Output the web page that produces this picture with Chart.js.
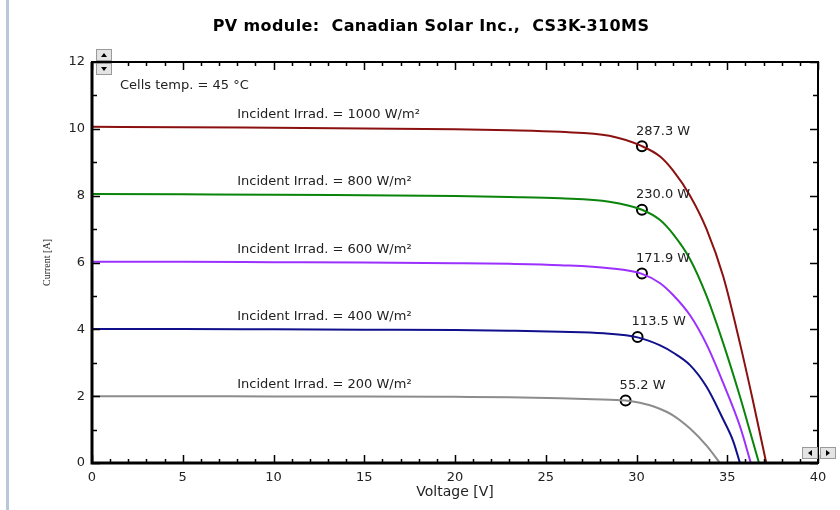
<!DOCTYPE html>
<html>
<head>
<meta charset="utf-8">
<script src="https://cdn.jsdelivr.net/npm/chart.js"></script>
<style>
  body { margin: 0; background: #fff; }
  #wrap { position: relative; width: 840px; height: 510px; }
  #edge { position: absolute; left: 6px; top: 0; width: 3px; height: 510px; background: #b8c8dc; }
</style>
</head>
<body>
<div id="wrap">
  <div id="edge"></div>
  <canvas id="ivchart" width="840" height="510"></canvas>
</div>
<script>
// I-V curves, one per irradiance level (voltage [V] / current [A])
const v1000 = [0, 5, 10, 15, 20, 23, 25.8, 28.5, 30.3, 31.3, 32.03, 32.95, 33.86, 34.78, 35.7, 36.4, 37.15];
const i1000 = [10.06, 10.05, 10.03, 10.01, 9.99, 9.96, 9.91, 9.79, 9.48, 9.17, 8.74, 8.0, 7.0, 5.58, 3.58, 1.9, 0];

const v800 = [0, 5, 10, 15, 20, 23, 25.8, 28.5, 30.3, 31.3, 32.03, 32.95, 33.86, 34.78, 35.7, 36.25, 36.75];
const i800 = [8.05, 8.04, 8.03, 8.01, 7.99, 7.96, 7.92, 7.82, 7.58, 7.27, 6.84, 6.1, 5.0, 3.58, 1.99, 0.95, 0];

const v600 = [0, 5, 10, 15, 20, 23, 25.8, 28.5, 30.3, 31.3, 32.03, 32.95, 33.86, 34.78, 35.7, 36.3];
const i600 = [6.02, 6.02, 6.01, 6.0, 5.98, 5.96, 5.92, 5.83, 5.66, 5.38, 5.02, 4.42, 3.55, 2.39, 1.1, 0];

const v400 = [0, 5, 10, 15, 20, 23, 25.8, 28.2, 30.06, 31.3, 32.03, 32.95, 33.86, 34.78, 35.33, 35.7];
const i400 = [4.01, 4.01, 4.0, 3.99, 3.98, 3.96, 3.93, 3.88, 3.76, 3.52, 3.3, 2.93, 2.28, 1.3, 0.65, 0];

const v200 = [0, 5, 10, 15, 20, 23, 25.8, 27.6, 29.4, 30.19, 31.1, 32.03, 32.95, 33.86, 34.6];
const i200 = [2.0, 2.0, 1.99, 1.99, 1.98, 1.97, 1.94, 1.91, 1.87, 1.8, 1.66, 1.42, 1.03, 0.52, 0];

const irradLabels = ['1000', '800', '600', '400', '200'];
const curveColors = ['#8b1010', '#0a840a', '#9b30ff', '#10108c', '#8c8c8c'];

// maximum power points
const mppV = [30.3, 30.3, 30.3, 30.06, 29.4];
const mppI = [9.48, 7.58, 5.67, 3.77, 1.87];
const mppPower = ['287.3 W', '230.0 W', '171.9 W', '113.5 W', '55.2 W'];

const xTicks = [0, 5, 10, 15, 20, 25, 30, 35, 40];
const yTicks = [0, 2, 4, 6, 8, 10, 12];

const curvesV = [v1000, v800, v600, v400, v200];
const curvesI = [i1000, i800, i600, i400, i200];

const toPoints = (xs, ys) => xs.map((x, k) => ({x: x, y: ys[k]}));

const datasets = curvesV.map((vs, n) => ({
    label: irradLabels[n] + ' W/m²',
    data: toPoints(vs, curvesI[n]),
    borderColor: curveColors[n],
    borderWidth: 2,
    pointRadius: 0,
    cubicInterpolationMode: 'monotone',
    fill: false
}));

datasets.push({
    label: 'MPP',
    data: toPoints(mppV, mppI),
    showLine: false,
    pointRadius: 5,
    pointHoverRadius: 5,
    pointBorderWidth: 2,
    pointBorderColor: '#000',
    pointBackgroundColor: '#fff'
});

const sansFont = '"DejaVu Sans", Verdana, sans-serif';
const txtFont = '13px ' + sansFont;

// frame, inward ticks, annotations, title and little scroll buttons
const decorPlugin = {
    id: 'decor',
    afterDatasetsDraw(chart) {
        const ctx = chart.ctx;
        const xs = chart.scales.x;
        const ys = chart.scales.y;
        const a = chart.chartArea;
        ctx.save();

        // title
        ctx.fillStyle = '#000';
        ctx.font = 'bold 16px ' + sansFont;
        ctx.letterSpacing = '0.4px';
        ctx.textAlign = 'center';
        ctx.textBaseline = 'middle';
        ctx.fillText('PV module:  Canadian Solar Inc.,  CS3K-310MS', 431, 27);
        ctx.letterSpacing = '0px';

        // frame
        ctx.strokeStyle = '#000';
        ctx.lineWidth = 2;
        ctx.strokeRect(a.left, a.top, a.right - a.left, a.bottom - a.top);
        ctx.lineWidth = 3;
        ctx.beginPath();
        ctx.moveTo(a.left, a.top);
        ctx.lineTo(a.left, a.bottom);
        ctx.lineTo(a.right, a.bottom);
        ctx.stroke();

        // ticks
        ctx.lineWidth = 1.5;
        ctx.beginPath();
        for (let v = 0; v <= 40; v++) {
            const px = Math.round(xs.getPixelForValue(v)) + 0.5;
            const len = v % 5 === 0 ? 8 : 4;
            ctx.moveTo(px, a.bottom); ctx.lineTo(px, a.bottom - len);
            ctx.moveTo(px, a.top); ctx.lineTo(px, a.top + len);
        }
        for (let c = 0; c <= 12; c++) {
            const py = Math.round(ys.getPixelForValue(c)) + 0.5;
            const len = c % 2 === 0 ? 8 : 5;
            ctx.moveTo(a.left, py); ctx.lineTo(a.left + len, py);
            ctx.moveTo(a.right, py); ctx.lineTo(a.right - len, py);
        }
        ctx.stroke();

        // texts
        ctx.fillStyle = '#222';
        ctx.font = txtFont;
        ctx.textBaseline = 'middle';
        ctx.textAlign = 'left';
        ctx.fillText('Cells temp. = 45 °C', 120, 86);

        irradLabels.forEach((lab, n) => {
            const py = ys.getPixelForValue(curvesI[n][0]) - 12;
            ctx.fillText('Incident Irrad. = ' + lab + ' W/m²', xs.getPixelForValue(8), py);
        });

        const mppMeta = chart.getDatasetMeta(datasets.length - 1);
        mppMeta.data.forEach((pt, n) => {
            ctx.fillText(mppPower[n], pt.x - 6, pt.y - 15);
        });

        // scroll buttons
        const btn = (x, y, dir) => {
            ctx.fillStyle = '#e4e4e4';
            ctx.fillRect(x, y, 16, 12);
            ctx.strokeStyle = '#9a9a9a';
            ctx.lineWidth = 1;
            ctx.strokeRect(x + 0.5, y + 0.5, 15, 11);
            ctx.fillStyle = '#000';
            ctx.beginPath();
            const cx = x + 8, cy = y + 6;
            if (dir === 'up') { ctx.moveTo(cx - 3, cy + 2); ctx.lineTo(cx + 3, cy + 2); ctx.lineTo(cx, cy - 2); }
            if (dir === 'down') { ctx.moveTo(cx - 3, cy - 2); ctx.lineTo(cx + 3, cy - 2); ctx.lineTo(cx, cy + 2); }
            if (dir === 'left') { ctx.moveTo(cx + 2, cy - 3); ctx.lineTo(cx + 2, cy + 3); ctx.lineTo(cx - 2, cy); }
            if (dir === 'right') { ctx.moveTo(cx - 2, cy - 3); ctx.lineTo(cx - 2, cy + 3); ctx.lineTo(cx + 2, cy); }
            ctx.fill();
        };
        btn(96, 49, 'up');
        btn(96, 63, 'down');
        btn(802, 447, 'left');
        btn(820, 447, 'right');

        ctx.restore();
    }
};

const chart1 = document.getElementById('ivchart');

new Chart(chart1, {
    type: 'line',
    data: { datasets: datasets },
    plugins: [decorPlugin],
    options: {
        responsive: false,
        animation: false,
        layout: { padding: { left: 0, right: 22, top: 62, bottom: 0 } },
        plugins: {
            legend: { display: false },
            tooltip: { enabled: false },
            title: { display: false }
        },
        scales: {
            x: {
                type: 'linear',
                min: 0,
                max: 40,
                afterBuildTicks: s => { s.ticks = xTicks.map(v => ({value: v})); },
                afterFit: s => { s.height = 47; },
                grid: { display: false },
                border: { display: false },
                ticks: {
                    color: '#222',
                    padding: -1,
                    font: { family: sansFont, size: 13 }
                },
                title: {
                    display: true,
                    text: 'Voltage [V]',
                    color: '#222',
                    padding: { top: 0, bottom: 9 },
                    font: { family: sansFont, size: 14 }
                }
            },
            y: {
                min: 0,
                max: 12,
                afterBuildTicks: s => { s.ticks = yTicks.map(v => ({value: v})); },
                afterFit: s => { s.width = 92; },
                grid: { display: false },
                border: { display: false },
                ticks: {
                    color: '#222',
                    padding: -1,
                    font: { family: sansFont, size: 13 }
                },
                title: {
                    display: true,
                    text: 'Current [A]',
                    color: '#222',
                    padding: { top: 41, bottom: 0 },
                    font: { family: '"Liberation Serif", serif', size: 10 }
                }
            }
        }
    }
});
</script>
</body>
</html>
